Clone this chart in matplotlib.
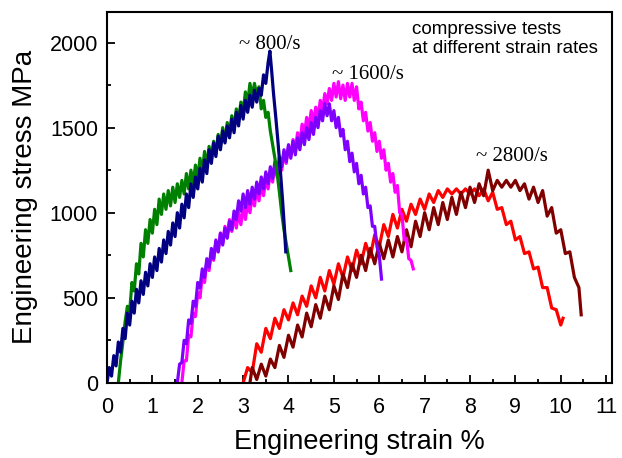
import matplotlib.pyplot as plt

# ~800/s tests
green_x = [0.25, 0.30, 0.35, 0.40, 0.45, 0.50, 0.55, 0.60, 0.65, 0.70, 0.75, 0.80, 0.85, 0.90, 0.95,
           1.00, 1.05, 1.10, 1.15, 1.20, 1.25, 1.30, 1.35, 1.40, 1.45, 1.50, 1.55, 1.60, 1.65, 1.70,
           1.75, 1.80, 1.85, 1.90, 1.95, 2.00, 2.05, 2.10, 2.15, 2.20, 2.25, 2.30, 2.35, 2.40, 2.45,
           2.50, 2.55, 2.60, 2.65, 2.70, 2.75, 2.80, 2.85, 2.90, 2.95, 3.00, 3.05, 3.10, 3.15, 3.20,
           3.25, 3.30, 3.35, 3.40, 3.45, 3.50, 3.55, 3.60, 3.65, 3.70, 3.75, 3.80, 3.85, 3.90, 3.95,
           4.00, 4.05]
green_y = [0, 130, 240, 360, 450, 420, 590, 540, 700, 640, 820, 740, 900, 820, 960,
           880, 1020, 930, 1080, 990, 1110, 1020, 1130, 1040, 1150, 1060, 1170, 1090, 1190, 1110,
           1230, 1140, 1250, 1170, 1280, 1200, 1320, 1240, 1360, 1270, 1390, 1310, 1420, 1350, 1460,
           1390, 1500, 1420, 1530, 1460, 1570, 1500, 1610, 1540, 1650, 1590, 1710, 1640, 1760, 1680,
           1760, 1690, 1740, 1610, 1660, 1560, 1590, 1480, 1400, 1320, 1230, 1120, 1000, 900, 820,
           740, 660]

blue_x = [0.00, 0.05, 0.10, 0.15, 0.20, 0.25, 0.30, 0.35, 0.40, 0.45, 0.50, 0.55, 0.60, 0.65, 0.70,
          0.75, 0.80, 0.85, 0.90, 0.95, 1.00, 1.05, 1.10, 1.15, 1.20, 1.25, 1.30, 1.35, 1.40, 1.45,
          1.50, 1.55, 1.60, 1.65, 1.70, 1.75, 1.80, 1.85, 1.90, 1.95, 2.00, 2.05, 2.10, 2.15, 2.20,
          2.25, 2.30, 2.35, 2.40, 2.45, 2.50, 2.55, 2.60, 2.65, 2.70, 2.75, 2.80, 2.85, 2.90, 2.95,
          3.00, 3.05, 3.10, 3.15, 3.20, 3.25, 3.30, 3.35, 3.40, 3.45, 3.50, 3.55,
          3.59, 3.63, 3.67, 3.72, 3.77, 3.82, 3.87, 3.91, 3.94]
blue_y = [0, 90, 40, 160, 100, 240, 180, 320, 260, 410, 340, 480, 410, 550, 470,
          600, 520, 650, 570, 700, 620, 740, 660, 790, 710, 840, 760, 890, 810, 940,
          860, 1000, 910, 1050, 970, 1110, 1030, 1170, 1090, 1210, 1140, 1260, 1180, 1310, 1230,
          1370, 1290, 1410, 1330, 1450, 1370, 1480, 1410, 1510, 1440, 1550, 1470, 1590, 1510, 1630,
          1550, 1660, 1590, 1690, 1620, 1720, 1650, 1730, 1690, 1810, 1760, 1880,
          1950, 1830, 1700, 1560, 1410, 1250, 1070, 910, 770]

# ~1600/s tests
purple_x = [1.55, 1.60, 1.65, 1.70, 1.75, 1.80, 1.85, 1.90, 1.95, 2.00, 2.05, 2.10, 2.15, 2.20, 2.25,
            2.30, 2.35, 2.40, 2.45, 2.50, 2.55, 2.60, 2.65, 2.70, 2.75, 2.80, 2.85, 2.90, 2.95, 3.00,
            3.05, 3.10, 3.15, 3.20, 3.25, 3.30, 3.35, 3.40, 3.45, 3.50, 3.55, 3.60, 3.65, 3.70, 3.75,
            3.80, 3.85, 3.90, 3.95, 4.00, 4.05, 4.10, 4.15, 4.20, 4.25, 4.30, 4.35, 4.40, 4.45, 4.50,
            4.55, 4.60, 4.65, 4.70, 4.75, 4.80, 4.85, 4.90, 4.95, 5.00, 5.05, 5.10, 5.15, 5.20, 5.25,
            5.30, 5.35, 5.40, 5.45, 5.50, 5.55, 5.60, 5.65, 5.70, 5.75, 5.80, 5.85, 5.90, 5.95, 6.00,
            6.05]
purple_y = [0, 110, 120, 250, 230, 370, 350, 480, 450, 590, 560, 670, 620, 730, 680,
            790, 730, 840, 770, 880, 810, 910, 850, 950, 900, 1010, 960, 1070, 1010, 1110,
            1030, 1130, 1050, 1150, 1080, 1180, 1110, 1210, 1140, 1240, 1170, 1270, 1200, 1300, 1230,
            1330, 1270, 1370, 1300, 1400, 1320, 1420, 1340, 1440, 1370, 1470, 1400, 1500, 1430, 1530,
            1460, 1560, 1500, 1600, 1540, 1640, 1570, 1640, 1540, 1600, 1500, 1560, 1450, 1490, 1370,
            1420, 1300, 1350, 1240, 1290, 1170, 1220, 1110, 1150, 1030, 1040, 920, 920, 800, 750,
            610]

magenta_x = [1.65, 1.70, 1.75, 1.80, 1.85, 1.90, 1.95, 2.00, 2.05, 2.10, 2.15, 2.20, 2.25, 2.30, 2.35,
             2.40, 2.45, 2.50, 2.55, 2.60, 2.65, 2.70, 2.75, 2.80, 2.85, 2.90, 2.95, 3.00, 3.05, 3.10,
             3.15, 3.20, 3.25, 3.30, 3.35, 3.40, 3.45, 3.50, 3.55, 3.60, 3.65, 3.70, 3.75, 3.80, 3.85,
             3.90, 3.95, 4.00, 4.05, 4.10, 4.15, 4.20, 4.25, 4.30, 4.35, 4.40, 4.45, 4.50, 4.55, 4.60,
             4.65, 4.70, 4.75, 4.80, 4.85, 4.90, 4.95, 5.00, 5.05, 5.10, 5.15, 5.20, 5.25, 5.30, 5.35,
             5.40, 5.45, 5.50, 5.55, 5.60, 5.65, 5.70, 5.75, 5.80, 5.85, 5.90, 5.95, 6.00, 6.05, 6.10,
             6.15, 6.20, 6.25, 6.30, 6.35, 6.40, 6.45, 6.50, 6.55, 6.60, 6.65, 6.70, 6.75]
magenta_y = [0, 130, 130, 280, 270, 410, 390, 530, 500, 630, 590, 710, 660, 770, 720,
             830, 770, 880, 820, 920, 860, 960, 890, 980, 910, 1000, 930, 1030, 960, 1060,
             1000, 1100, 1040, 1140, 1070, 1170, 1100, 1200, 1140, 1240, 1180, 1280, 1210, 1310, 1250,
             1350, 1290, 1390, 1330, 1430, 1370, 1470, 1410, 1520, 1460, 1560, 1500, 1600, 1530, 1620,
             1560, 1660, 1600, 1700, 1640, 1730, 1660, 1760, 1680, 1770, 1670, 1750, 1660, 1760, 1680,
             1760, 1660, 1740, 1610, 1650, 1540, 1590, 1480, 1530, 1420, 1470, 1360, 1420, 1320, 1370,
             1250, 1290, 1180, 1230, 1120, 1160, 1000, 990, 840, 850, 730, 720, 670]

# ~2800/s tests
red_x = [3.0, 3.1, 3.2, 3.3, 3.4, 3.5, 3.6, 3.7, 3.8, 3.9, 4.0, 4.1, 4.2, 4.3, 4.4,
         4.5, 4.6, 4.7, 4.8, 4.9, 5.0, 5.1, 5.2, 5.3, 5.4, 5.5, 5.6, 5.7, 5.8, 5.9,
         6.0, 6.1, 6.2, 6.3, 6.4, 6.5, 6.6, 6.7, 6.8, 6.9, 7.0, 7.1, 7.2, 7.3, 7.4,
         7.5, 7.6, 7.7, 7.8, 7.9, 8.0, 8.1, 8.2, 8.3, 8.4, 8.5, 8.6, 8.7, 8.8, 8.9,
         9.0, 9.1, 9.2, 9.3, 9.4, 9.5, 9.6, 9.7, 9.8, 9.9, 10.0, 10.05]
red_y = [0, 90, 60, 230, 180, 320, 260, 380, 320, 430, 370, 470, 400, 510, 450,
         570, 500, 620, 540, 660, 580, 700, 620, 740, 660, 780, 700, 820, 740, 870,
         800, 930, 860, 990, 910, 1020, 950, 1050, 990, 1080, 1020, 1110, 1060, 1130, 1090,
         1140, 1110, 1140, 1110, 1140, 1110, 1140, 1100, 1140, 1070, 1120, 1020, 1030, 930, 950,
         840, 860, 760, 770, 670, 680, 560, 560, 440, 430, 340, 380]

darkred_x = [3.15, 3.2, 3.3, 3.4, 3.5, 3.6, 3.7, 3.8, 3.9, 4.0, 4.1, 4.2, 4.3, 4.4, 4.5,
             4.6, 4.7, 4.8, 4.9, 5.0, 5.1, 5.2, 5.3, 5.4, 5.5, 5.6, 5.7, 5.8, 5.9, 6.0,
             6.1, 6.2, 6.3, 6.4, 6.5, 6.6, 6.7, 6.8, 6.9, 7.0, 7.1, 7.2, 7.3, 7.4, 7.5,
             7.6, 7.7, 7.8, 7.9, 8.0, 8.1, 8.2, 8.3, 8.4, 8.5, 8.6, 8.7, 8.8, 8.9, 9.0,
             9.1, 9.2, 9.3, 9.4, 9.5, 9.6, 9.7, 9.8, 9.9, 10.0, 10.1, 10.2, 10.3, 10.4, 10.45]
darkred_y = [0, 90, 20, 110, 40, 140, 90, 220, 150, 280, 210, 340, 270, 410, 330,
             460, 380, 510, 430, 570, 490, 640, 560, 700, 620, 750, 660, 790, 700, 820,
             730, 840, 740, 860, 770, 900, 800, 950, 860, 1000, 900, 1030, 930, 1060, 960,
             1090, 990, 1120, 1030, 1150, 1060, 1170, 1100, 1250, 1130, 1190, 1150, 1190, 1150, 1190,
             1130, 1170, 1080, 1150, 1060, 1130, 980, 1030, 880, 900, 760, 770, 620, 560, 400]

fig, ax = plt.subplots(figsize=(6.22, 4.58), dpi=100)
fig.subplots_adjust(left=0.172, right=0.984, bottom=0.164, top=0.974)

lw = 2.3
ax.plot(red_x, red_y, color='#ff0000', lw=lw)
ax.plot(darkred_x, darkred_y, color='#800000', lw=lw)
ax.plot(magenta_x, magenta_y, color='#ff00ff', lw=lw)
ax.plot(purple_x, purple_y, color='#8000ff', lw=lw)
ax.plot(green_x, green_y, color='#008000', lw=lw)
ax.plot(blue_x, blue_y, color='#000080', lw=lw)

ax.set_xlim(0, 11.13)
ax.set_ylim(0, 2180)
ax.set_xticks(range(0, 12))
ax.set_yticks([0, 500, 1000, 1500, 2000])
ax.set_xticks([i + 0.5 for i in range(11)], minor=True)
ax.set_yticks([250, 750, 1250, 1750], minor=True)
ax.tick_params(which='both', direction='in', top=False, right=False, labelsize=15.5, width=1.3)
ax.tick_params(which='major', length=6)
ax.tick_params(which='minor', length=3)
ax.tick_params(axis='x', pad=10)
ax.tick_params(axis='y', pad=6.5)
for s in ax.spines.values():
    s.set_linewidth(1.5)

sans = ['Liberation Sans', 'DejaVu Sans']
serif = ['Liberation Serif', 'DejaVu Serif']
for lab in ax.get_xticklabels() + ax.get_yticklabels():
    lab.set_family(sans)

ax.set_xlabel('Engineering strain %', fontsize=19.5, family=sans, labelpad=8)
ax.set_ylabel('Engineering stress MPa', fontsize=20, family=sans, labelpad=8)

ax.text(3.59, 1990, '~ 800/s', fontsize=15, family=serif, ha='center', va='center')
ax.text(5.74, 1815, '~ 1600/s', fontsize=15, family=serif, ha='center', va='center')
ax.text(8.93, 1330, '~ 2800/s', fontsize=15, family=serif, ha='center', va='center')
ax.text(6.73, 2125, 'compressive tests\nat different strain rates', fontsize=13.5,
        family=sans, ha='left', va='top', linespacing=1.15)

plt.savefig('out.png', dpi=100)
